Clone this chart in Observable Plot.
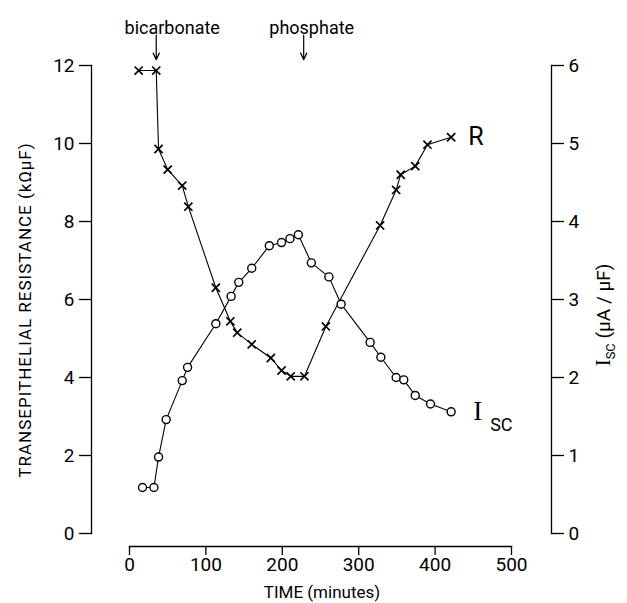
<!DOCTYPE html>
<html>
<head>
<meta charset="utf-8">
<script src="https://cdn.jsdelivr.net/npm/d3@7"></script>
<script src="https://cdn.jsdelivr.net/npm/@observablehq/plot@0.6"></script>
<style>
  body { margin: 0; background: #fff; }
  #chart svg { display: block; }
</style>
</head>
<body>
<div id="chart"></div>
<script>
// Transepithelial resistance R (kΩ·μF), crosses
const rTime  = [12, 35, 38, 50, 69, 77, 113, 132, 141, 160, 185, 199, 211, 229, 257, 328, 349, 355, 374, 390, 421];
const rValue = [11.87, 11.87, 9.86, 9.33, 8.92, 8.38, 6.30, 5.44, 5.15, 4.85, 4.50, 4.18, 4.03, 4.03, 5.31, 7.90, 8.81, 9.20, 9.42, 9.97, 10.16];

// Short-circuit current Isc (μA/μF), circles
const iscTime  = [17, 32, 38, 48, 69, 76, 113, 133, 143, 160, 183, 199, 210, 221, 238, 261, 277, 315, 329, 349, 359, 374, 394, 421];
const iscValue = [0.59, 0.59, 0.98, 1.46, 1.96, 2.13, 2.69, 3.04, 3.22, 3.40, 3.69, 3.73, 3.78, 3.83, 3.47, 3.29, 2.94, 2.45, 2.26, 2.00, 1.97, 1.77, 1.66, 1.56];

// Axes
const xTicks = [0, 100, 200, 300, 400, 500];
const leftTicks = [0, 2, 4, 6, 8, 10, 12];
const rightTicks = [0, 1, 2, 3, 4, 5, 6];

// Events (arrows)
const eventTime  = [35, 228];
const eventLabel = ["bicarbonate", "phosphate"];

const scaleRight = 12 / 6; // right axis (0–6) mapped onto left axis (0–12)

const rRows = rTime.map((t, i) => ({t, v: rValue[i]}));
const iRows = iscTime.map((t, i) => ({t, v: iscValue[i] * scaleRight}));

const FONT = "Roboto, 'Liberation Sans', sans-serif";

const plot = Plot.plot({
  width: 627,
  height: 603,
  marginLeft: 91,
  marginRight: 76,
  marginTop: 65,
  marginBottom: 57,
  style: {fontFamily: FONT, fontSize: "19px", color: "black", background: "white"},
  x: {domain: [0, 500], range: [129, 511]},
  y: {domain: [0, 12], range: [533, 65]},
  marks: [
    Plot.frame({anchor: "left", insetBottom: 13, strokeWidth: 1.3}),
    Plot.frame({anchor: "right", insetBottom: 13, strokeWidth: 1.3}),
    Plot.frame({anchor: "bottom", insetLeft: 38, insetRight: 40, strokeWidth: 1.3}),
    Plot.axisY(leftTicks, {anchor: "left", tickSize: 12, tickPadding: 5, label: null, strokeWidth: 1.3}),
    Plot.axisY(rightTicks.map(d => d * scaleRight), {anchor: "right", tickSize: 12, tickPadding: 5, label: null, tickFormat: d => d / scaleRight, strokeWidth: 1.3}),
    Plot.axisX(xTicks, {anchor: "bottom", tickSize: 9, tickPadding: 2, label: null, strokeWidth: 1.3}),

    Plot.line(rRows, {x: "t", y: "v", stroke: "black", strokeWidth: 1.1}),
    Plot.line(iRows, {x: "t", y: "v", stroke: "black", strokeWidth: 1.1}),
    Plot.dot(iRows, {x: "t", y: "v", r: 4, fill: "white", stroke: "black", strokeWidth: 1.4}),
    Plot.dot(rRows, {x: "t", y: "v", symbol: "times", r: 3.8, stroke: "black", strokeWidth: 1.7}),

    // series labels
    Plot.text(["R"], {x: [rTime.at(-1)], y: [rValue.at(-1)], text: d => d, textAnchor: "start", dx: 17, fontSize: 25, fontFamily: FONT}),
    Plot.text(["I"], {x: [iscTime.at(-1)], y: [iscValue.at(-1) * scaleRight], text: d => d, textAnchor: "start", dx: 22, fontSize: 27, fontFamily: "'Liberation Serif', serif"}),
    Plot.text(["SC"], {x: [iscTime.at(-1)], y: [iscValue.at(-1) * scaleRight], text: d => d, textAnchor: "start", dx: 39, dy: 13, fontSize: 18, fontFamily: FONT}),

    // event arrows and labels
    Plot.arrow(eventTime, {x1: d => d, x2: d => d, y1: 12.78, y2: 12.15, headLength: 9, headAngle: 50, strokeWidth: 1.2, stroke: "black"}),
    Plot.text([eventLabel[0]], {x: [eventTime[0]], frameAnchor: "top", dy: -44, dx: 16, text: d => d, fontSize: 18, fontFamily: FONT}),
    Plot.text([eventLabel[1]], {x: [eventTime[1]], frameAnchor: "top", dy: -44, dx: 8, text: d => d, fontSize: 18, fontFamily: FONT})
  ]
});

// Axis titles
const svg = d3.select(plot);
svg.append("text")
  .attr("transform", "translate(25,310) rotate(-90)")
  .attr("text-anchor", "middle")
  .attr("dy", "0.35em")
  .attr("font-size", 17)
  .attr("letter-spacing", 1)
  .attr("fill", "black")
  .text("TRANSEPITHELIAL RESISTANCE (kΩμF)");

const rt = svg.append("text")
  .attr("transform", "translate(603,315) rotate(-90)")
  .attr("text-anchor", "middle")
  .attr("dy", "0.35em")
  .attr("font-size", 19)
  .attr("fill", "black");
rt.append("tspan").attr("font-family", "'Liberation Serif', serif").attr("font-size", 21).text("I");
rt.append("tspan").attr("font-size", 13).attr("dy", 5).text("SC");
rt.append("tspan").attr("dy", -5).text(" (μA / μF)");

svg.append("text")
  .attr("x", 322)
  .attr("y", 598)
  .attr("text-anchor", "middle")
  .attr("font-size", 17)
  .attr("fill", "black")
  .text("TIME (minutes)");

document.getElementById("chart").append(plot);
</script>
</body>
</html>
